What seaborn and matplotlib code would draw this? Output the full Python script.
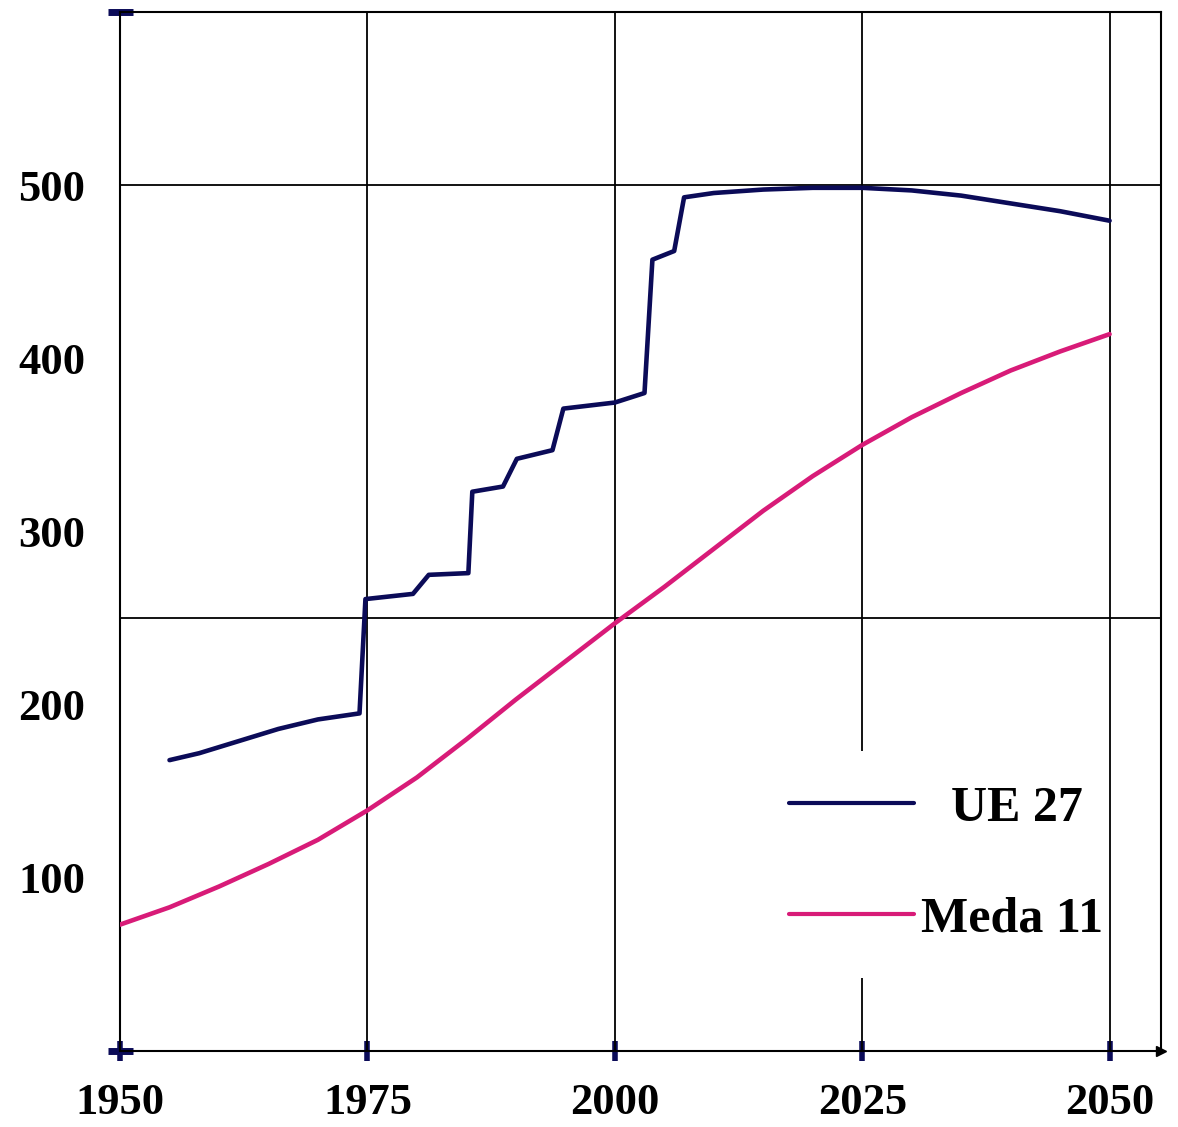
import matplotlib
matplotlib.use("Agg")
import matplotlib.pyplot as plt
from matplotlib.lines import Line2D
import seaborn as sns

# EU 27 (stepwise enlargements) and Meda 11 population, millions
ue_years = [1955, 1958, 1962, 1966, 1970, 1974.2, 1974.8, 1979.6, 1981.2, 1985.2,
            1985.6, 1988.7, 1990.1, 1993.7, 1994.8, 2000, 2003, 2003.8, 2006, 2007,
            2010, 2015, 2020, 2025, 2030, 2035, 2040, 2045, 2050]
ue_values = [168, 172, 179, 186, 191.5, 195, 261, 264, 275, 276,
             323, 326, 342, 347, 371, 374.5, 380, 457, 462, 493,
             495.5, 497.5, 498.5, 498.5, 497, 494, 489.5, 485, 479.5]

meda_years = [1950, 1955, 1960, 1965, 1970, 1975, 1980, 1985, 1990, 1995, 2000,
              2005, 2010, 2015, 2020, 2025, 2030, 2035, 2040, 2045, 2050]
meda_values = [73, 83, 95, 108, 122, 139, 158, 180, 203, 225, 247,
               268, 290, 312, 332, 350, 366, 380, 393, 404, 414]

x_ticks = [1950, 1975, 2000, 2025, 2050]
y_ticks = [100, 200, 300, 400, 500]
labels = ["UE 27", "Meda 11"]

ue_color = "#0b0b58"
meda_color = "#d81b78"

sns.set_style("white")
plt.rcParams["font.family"] = ["Liberation Serif", "DejaVu Serif"]
plt.rcParams["font.weight"] = "bold"
plt.rcParams["text.color"] = "black"
plt.rcParams["xtick.color"] = "black"
plt.rcParams["ytick.color"] = "black"

fig = plt.figure(figsize=(11.78, 11.27), dpi=100)
ax = fig.add_axes([0.1019, 0.0674, 0.8837, 0.9219])

# grid lines
for x in [1975, 2000, 2025]:
    ax.axvline(x, color="black", lw=1.3, zorder=1)
ax.axvline(2050, color="black", lw=1.3, zorder=3)
for y in [250, 500]:
    ax.axhline(y, color="black", lw=1.3, zorder=1)

sns.lineplot(x=ue_years, y=ue_values, ax=ax, color=ue_color, lw=3.3,
             zorder=4, legend=False)
sns.lineplot(x=meda_years, y=meda_values, ax=ax, color=meda_color, lw=3.3,
             zorder=4, legend=False)

ax.set_xlim(1950, 2055.2)
ax.set_ylim(0, 600)

for s in ax.spines.values():
    s.set_color("black")
    s.set_linewidth(1.5)

ax.set_xticks(x_ticks)
ax.set_xticklabels([str(v) for v in x_ticks], fontsize=32, fontweight="bold")
ax.set_yticks(y_ticks)
ax.set_yticklabels([str(v) for v in y_ticks], fontsize=32, fontweight="bold")
ax.set_yticks([0, 500, 600], minor=True)
ax.tick_params(axis="x", which="major", bottom=True, direction="inout",
               length=14, width=4, color=ue_color, labelcolor="black", pad=16)
ax.tick_params(axis="y", which="major", left=True, length=0, pad=25,
               labelcolor="black")
ax.tick_params(axis="y", which="minor", left=True, direction="inout",
               length=18, width=5, color=ue_color)

# arrow at the end of the x axis
ax.plot([1], [0], marker=">", color="black", ms=7, transform=ax.transAxes,
        clip_on=False, zorder=5)

handles = [Line2D([], [], color=ue_color, lw=3),
           Line2D([], [], color=meda_color, lw=3)]
leg = ax.legend(handles, labels, loc="center", bbox_to_anchor=(0.7935, 0.180),
                frameon=True, facecolor="white", edgecolor="none", framealpha=1,
                fancybox=False, prop={"size": 36, "weight": "bold"},
                handlelength=2.5, handletextpad=0.15, labelspacing=1.3,
                borderpad=0.7)
leg.set_zorder(2)
for t in leg.get_texts():
    t.set_color("black")
leg.get_texts()[0].set_x(30)

fig.savefig("out.png", dpi=100, facecolor="white")
